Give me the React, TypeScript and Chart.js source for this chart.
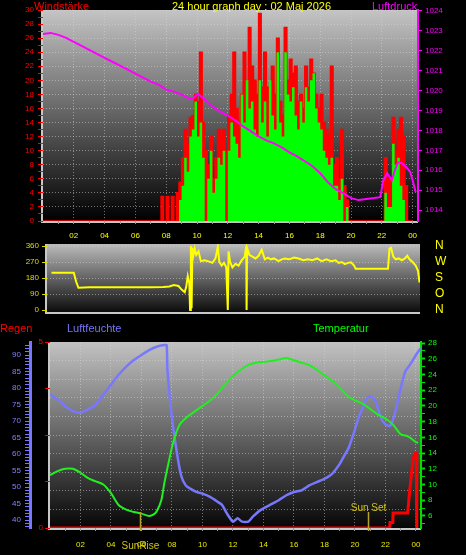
import React, { useEffect, useRef } from "react";
import { Chart, registerables } from "chart.js";

Chart.register(...registerables);

const FONT = "'Liberation Sans', Arial, Helvetica, sans-serif";
const W = 466;
const H = 555;

// ---------- Panel 1: wind (10-minute steps from 00:00) and pressure ----------
const windGust = [
  0, 0, 0, 0, 0, 0,
  0, 0, 0, 0, 0, 0,
  0, 0, 0, 0, 0, 0,
  0, 0, 0, 0, 0, 0,
  0, 0, 0, 0, 0, 0,
  0, 0, 0, 0, 0, 0,
  0, 0, 0, 0, 0, 0,
  0, 0, 0, 0, 3.5, 0,
  3.5, 0, 3.5, 0, 4, 5.5,
  9, 13, 11, 14.7, 15, 18,
  17, 24, 14, 10, 8, 12,
  6, 9, 13, 12, 13, 10,
  15, 18, 24, 16, 13, 18,
  24, 15, 27.5, 22, 20, 18,
  29.5, 19, 24, 19, 15, 22,
  18, 26, 17, 15, 27.5, 20,
  23, 21, 22, 17, 18, 16,
  22, 19, 23, 21, 18, 16,
  18, 14, 13, 12, 22, 8,
  9, 6, 13, 5, 3, 0,
  0, 0, 0, 0, 0, 0,
  0, 0, 0, 0, 0, 0,
  0, 9, 6, 6, 14.7, 10,
  13, 14.7, 12, 5, 0, 0,
  0,
];
const windAvg = [
  0, 0, 0, 0, 0, 0,
  0, 0, 0, 0, 0, 0,
  0, 0, 0, 0, 0, 0,
  0, 0, 0, 0, 0, 0,
  0, 0, 0, 0, 0, 0,
  0, 0, 0, 0, 0, 0,
  0, 0, 0, 0, 0, 0,
  0, 0, 0, 0, 0, 0,
  0, 0, 0, 0, 0, 3,
  5, 9, 7, 12, 13, 17,
  12, 14, 9, 0, 6, 10,
  4, 6, 9, 8, 10, 0,
  10, 14, 12, 11, 9, 18,
  14, 20, 16, 17, 13, 12,
  20, 14, 17, 12, 20, 15,
  13, 24, 14, 12, 24, 18,
  17, 19, 15, 13, 17, 14,
  19, 17, 20, 21, 16, 14,
  13, 10, 9, 8, 9, 5,
  5, 3, 6, 0, 2, 0,
  0, 0, 0, 0, 0, 0,
  0, 0, 0, 0, 0, 0,
  0, 4, 2, 2, 11, 8,
  9, 5, 3, 0, 0, 0,
  0,
];
const pressureHours = [
  0, 0.5, 1, 1.5, 2, 2.5, 3, 3.5, 4, 4.5, 5, 5.5, 6, 6.5, 7, 7.5, 8, 8.5, 9, 9.5,
  9.75, 10.05, 10.5, 11, 11.5, 12, 12.5, 13, 13.5, 14, 14.5, 15, 15.5, 16, 16.5,
  17, 17.5, 18, 18.5, 19, 19.5, 20, 20.5, 21, 21.5, 21.9, 22.1, 22.35, 22.65,
  22.85, 23.05, 23.3, 23.6, 23.85, 24, 24.2,
];
const pressureValues = [
  1022.85, 1022.9, 1022.8, 1022.65, 1022.45, 1022.25, 1022.05, 1021.85, 1021.65,
  1021.45, 1021.25, 1021.05, 1020.85, 1020.65, 1020.45, 1020.3, 1020.05, 1019.95,
  1019.8, 1019.6, 1019.6, 1019.85, 1019.55, 1019.2, 1018.95, 1018.75, 1018.5,
  1018.2, 1017.95, 1017.7, 1017.5, 1017.35, 1017.15, 1016.9, 1016.7, 1016.45,
  1016.2, 1015.85, 1015.4, 1015.05, 1014.85, 1014.6, 1014.5, 1014.55, 1014.6,
  1014.65, 1015.5, 1015.85, 1015.5, 1016.0, 1016.4, 1016.35, 1016.15, 1015.9,
  1015.5, 1014.9,
];

// ---------- Panel 2: wind direction ----------
const dirHours = [
  0.55, 1, 1.5, 2, 2.15, 2.3, 3, 4, 5, 6, 7, 7.8, 8.2, 8.5, 8.8, 9, 9.2, 9.3, 9.4,
  9.5, 9.55, 9.6, 9.65, 9.7, 9.75, 9.85, 9.95, 10.1, 10.25, 10.5, 10.8, 11, 11.2,
  11.35, 11.45, 11.6, 11.75, 11.9, 12, 12.05, 12.15, 12.3, 12.5, 12.7, 12.9, 13.1,
  13.2, 13.22, 13.25, 13.4, 13.6, 13.8, 14, 14.2, 14.4, 14.6, 14.8, 15, 15.3, 15.5,
  15.7, 16, 16.3, 16.6, 16.9, 17.2, 17.5, 17.8, 18.1, 18.4, 18.7, 19, 19.2, 19.4,
  19.6, 19.8, 20, 20.2, 20.3, 21, 22, 22.4, 22.5, 22.6, 22.75, 22.9, 23.1, 23.3,
  23.5, 23.65, 23.8, 24, 24.2, 24.35, 24.45,
];
const dirValues = [
  210, 210, 210, 210, 160, 125, 128, 128, 128, 128, 128, 130, 132, 140, 135, 115,
  100, 130, 190, 150, 0, 360, 10, 350, 300, 345, 310, 330, 275, 280, 272, 265, 290,
  355, 270, 250, 265, 240, 0, 330, 270, 240, 260, 250, 280, 300, 360, 0, 350, 310,
  300, 290, 305, 340, 285, 295, 285, 290, 275, 285, 290, 285, 295, 290, 280, 285,
  280, 290, 275, 285, 275, 280, 265, 270, 258, 265, 268, 250, 232, 232, 232, 232,
  345, 350, 300, 285, 290, 280, 290, 305, 285, 270, 250, 220, 155,
];
const dirTickValues = [0, 90, 180, 270, 360];
const dirTickNames = ["N", "O", "S", "W", "N"];

// ---------- Panel 3: rain, humidity, temperature ----------
const humHours = [
  0, 0.5, 1, 1.5, 2, 2.5, 3, 3.5, 4, 4.5, 5, 5.5, 6, 6.5, 7, 7.5, 7.65, 7.7, 8, 8.3,
  8.6, 8.9, 9.2, 9.6, 10, 10.5, 11, 11.3, 11.6, 12, 12.3, 12.6, 13, 13.3, 13.8, 14.4,
  15, 15.5, 16, 16.5, 17, 17.5, 18, 18.5, 19, 19.3, 19.6, 19.9, 20.2, 20.5, 20.8,
  21.1, 21.4, 21.7, 22, 22.3, 22.6, 23, 23.3, 23.6, 24, 24.3,
];
const humValues = [
  78, 76.5, 74.5, 73, 72.5, 73.5, 75, 78, 81, 84, 86.5, 88.5, 90, 91.5, 92.5, 93,
  93, 85.5, 71, 61, 53.5, 50.5, 49.5, 48.5, 48, 47, 45.5, 44.5, 42, 39.5, 40.5, 39.5,
  39.5, 41, 43, 44.5, 46, 47.5, 48.5, 49, 50.5, 51.5, 52.5, 54, 57, 59.5, 62, 66,
  70.5, 74, 77, 77.5, 75.5, 71, 69, 68.5, 72, 80, 85, 87, 90, 92,
];
const tempHours = [
  0, 0.5, 1, 1.5, 2, 2.5, 3, 3.5, 4, 4.5, 5, 5.5, 6, 6.5, 6.8, 7, 7.3, 7.5, 7.8, 8.1,
  8.5, 9, 9.5, 10, 10.5, 11, 11.5, 12, 12.5, 13, 13.5, 14, 14.5, 15, 15.5, 16, 16.5,
  17, 17.5, 18, 18.5, 19, 19.5, 20, 20.5, 21, 21.5, 22, 22.5, 23, 23.5, 24, 24.15,
];
const tempValues = [
  11.2, 11.7, 12, 12, 11.5, 10.8, 10.4, 10, 8.9, 7.4, 6.8, 6.5, 6.3, 6, 6.2, 6.6, 8,
  10.2, 13, 15.5, 17.6, 18.6, 19.3, 20, 20.7, 21.6, 22.8, 23.8, 24.6, 25.2, 25.5,
  25.6, 25.7, 25.9, 26.1, 25.8, 25.5, 25.2, 24.6, 23.9, 23.2, 22.3, 21.3, 20.7, 20.3,
  19.6, 18.9, 18.4, 17.6, 16.4, 16.1, 15.4, 15.3,
];
const rainHours = [0, 22.27, 22.3, 22.48, 22.5, 23.45, 23.5, 23.6, 23.72, 23.8, 23.93, 24.02, 24.05, 24.06];
const rainValues = [0, 0, 0.15, 0.15, 0.4, 0.4, 0.6, 1.05, 1.5, 1.85, 2.0, 2.0, 0, 0];

const sunriseHour = 5.93;
const sunsetHour = 20.87;

const hourTicks = [1, 2, 3, 4, 5, 6, 7, 8, 9, 10, 11, 12, 13, 14, 15, 16, 17, 18, 19, 20, 21, 22, 23, 24];

const GRID = "rgba(215,215,215,0.5)";

const hourLabel = (v: number) => {
  if (v % 2 !== 0) return "";
  return v === 24 ? "00" : String(v).padStart(2, "0");
};
const range = (a: number, b: number, s = 1) => {
  const out: number[] = [];
  for (let v = a; v <= b + 1e-9; v += s) out.push(Math.round(v * 100) / 100);
  return out;
};
const setTicks = (vals: number[]) => (s: any) => {
  s.ticks = vals.map((value) => ({ value }));
};
const pts = (xs: number[], ys: number[]) => xs.map((x, i) => ({ x, y: ys[i] }));
const stepPts = (ys: number[]) => ys.map((y, i) => ({ x: i / 6, y }));

const panelBg = {
  id: "panelBg",
  beforeDraw(chart: any, _a: any, opts: any) {
    const { ctx, chartArea: a } = chart;
    if (!a) return;
    ctx.save();
    const g = ctx.createLinearGradient(0, a.top, 0, a.bottom);
    g.addColorStop(0, opts.top);
    g.addColorStop(1, opts.bottom);
    ctx.fillStyle = g;
    ctx.fillRect(a.left, a.top, a.right - a.left, a.bottom - a.top);
    ctx.fillStyle = opts.frame;
    ctx.fillRect(a.left - 2, a.top, 2, a.bottom - a.top + 2);
    ctx.fillRect(a.left - 2, a.bottom, a.right - a.left + 2, 2);
    ctx.restore();
  },
};

const sunPlugin = {
  id: "sunMarks",
  afterDatasetsDraw(chart: any) {
    const { ctx, chartArea: a, scales } = chart;
    const xs = scales.x;
    const xr = Math.round(xs.getPixelForValue(sunriseHour)) + 0.5;
    const xt = Math.round(xs.getPixelForValue(sunsetHour)) + 0.5;
    ctx.save();
    ctx.strokeStyle = "#b4a42c";
    ctx.lineWidth = 1.5;
    [xr, xt].forEach((px) => {
      ctx.beginPath();
      ctx.moveTo(px, a.bottom + 3);
      ctx.lineTo(px, a.bottom - 16);
      ctx.stroke();
    });
    ctx.fillStyle = "#d2c21a";
    ctx.font = `10px ${FONT}`;
    ctx.textAlign = "center";
    ctx.textBaseline = "alphabetic";
    ctx.fillText("Sun Set", xt, a.bottom - 17);
    ctx.fillText("SunRise", xr, a.bottom + 21);
    ctx.restore();
  },
};

const baseOpts = (padTop: number, padBottom: number) => ({
  responsive: false,
  animation: false as const,
  events: [] as any[],
  layout: { padding: { top: padTop, bottom: padBottom, left: 0, right: 0 } },
});

export default function App() {
  const c1 = useRef<HTMLCanvasElement>(null);
  const c2 = useRef<HTMLCanvasElement>(null);
  const c3 = useRef<HTMLCanvasElement>(null);

  useEffect(() => {
    const charts: Chart[] = [];

    // ---- Panel 1 ----
    charts.push(
      new Chart(c1.current as HTMLCanvasElement, {
        type: "line",
        data: {
          datasets: [
            {
              label: "Luftdruck",
              data: pts(pressureHours, pressureValues),
              yAxisID: "yP",
              borderColor: "#ff00ff",
              borderWidth: 2,
              pointRadius: 0,
              fill: false,
              tension: 0,
              order: 0,
            },
            {
              label: "Wind",
              data: stepPts(windAvg),
              yAxisID: "yW",
              borderColor: "#00ff00",
              backgroundColor: "#00ff00",
              borderWidth: 0,
              pointRadius: 0,
              stepped: true,
              fill: "origin",
              order: 1,
            },
            {
              label: "Böen",
              data: stepPts(windGust),
              yAxisID: "yW",
              borderColor: "#ff0000",
              backgroundColor: "#ff0000",
              borderWidth: 1.5,
              pointRadius: 0,
              stepped: true,
              fill: "origin",
              order: 2,
            },
          ],
        },
        options: {
          ...baseOpts(10, H - 242),
          plugins: {
            legend: { display: false },
            tooltip: { enabled: false },
            panelBg: { top: "#c4c4c4", bottom: "#000000", frame: "#c8c8c8" },
          } as any,
          scales: {
            x: {
              type: "linear",
              min: 0,
              max: 24.35,
              afterBuildTicks: setTicks(hourTicks),
              afterFit: (s: any) => { s.height = 21; },
              ticks: {
                autoSkip: false,
                maxRotation: 0,
                color: "#ffff00",
                padding: 7,
                font: { size: 8, family: FONT },
                callback: (v: any) => hourLabel(Number(v)),
              },
              grid: {
                color: (c: any) => (c.tick && c.tick.value % 2 === 0 ? GRID : "transparent"),
                tickLength: 3,
                tickColor: "#9a9a9a",
              },
              border: { display: false, dash: [1, 2] },
            },
            yW: {
              position: "left",
              min: 0,
              max: 30,
              afterBuildTicks: setTicks(range(0, 30)),
              afterFit: (s: any) => { s.width = 43; },
              ticks: {
                autoSkip: false,
                color: "#ff0000",
                padding: 4,
                font: { size: 8, family: FONT },
                callback: (v: any) => (Number(v) % 2 === 0 ? String(v) : ""),
              },
              grid: {
                color: (c: any) => (c.tick && c.tick.value % 2 === 0 && c.tick.value > 0 ? GRID : "transparent"),
                tickColor: "#ff0000",
                tickLength: 5,
              },
              border: { display: false, dash: [1, 2] },
            },
            yP: {
              position: "right",
              min: 1013.45,
              max: 1024.05,
              afterBuildTicks: setTicks(range(1014, 1024)),
              afterFit: (s: any) => { s.width = 48; },
              ticks: {
                autoSkip: false,
                color: "#ff00ff",
                padding: 3,
                font: { size: 8, family: FONT },
                callback: (v: any) => String(Math.round(Number(v))),
              },
              grid: { drawOnChartArea: false, tickColor: "#ff00ff", tickLength: 4 },
              border: { display: true, color: "#ff00ff", width: 2, dash: [1, 2] },
            },
          } as any,
        },
        plugins: [panelBg],
      } as any)
    );

    // ---- Panel 2 ----
    charts.push(
      new Chart(c2.current as HTMLCanvasElement, {
        type: "line",
        data: {
          datasets: [
            {
              label: "Windrichtung",
              data: pts(dirHours, dirValues),
              yAxisID: "y",
              borderColor: "#ffff00",
              borderWidth: 2,
              pointRadius: 0,
              tension: 0,
              fill: false,
            },
          ],
        },
        options: {
          ...baseOpts(244, H - 312),
          plugins: {
            legend: { display: false },
            tooltip: { enabled: false },
            panelBg: { top: "#bcbcbc", bottom: "#0c0c0c", frame: "#c8c8c8" },
          } as any,
          scales: {
            x: { type: "linear", min: 0.26, max: 24.48, display: false },
            y: {
              position: "left",
              min: -11.25,
              max: 371.25,
              afterBuildTicks: setTicks(dirTickValues),
              afterFit: (s: any) => { s.width = 47; },
              ticks: {
                autoSkip: false,
                color: "#dcdc00",
                padding: 3,
                font: { size: 8, family: FONT },
              },
              grid: {
                color: (c: any) => (c.tick && c.tick.value > 0 ? "rgba(210,210,210,0.55)" : "transparent"),
                tickColor: "#dcdc00",
                tickLength: 5,
              },
              border: { display: false, dash: [1, 2] },
            },
            y2: {
              position: "right",
              min: -11.25,
              max: 371.25,
              afterBuildTicks: setTicks(dirTickValues),
              afterFit: (s: any) => { s.width = 46; },
              ticks: {
                autoSkip: false,
                color: "#ffff00",
                padding: 15,
                font: { size: 12, family: FONT },
                callback: (v: any) => dirTickNames[dirTickValues.indexOf(Number(v))] ?? "",
              },
              grid: { drawOnChartArea: false, drawTicks: false },
              border: { display: false },
            },
          } as any,
        },
        plugins: [panelBg],
      } as any)
    );

    // ---- Panel 3 ----
    const rainTickVals = [0, 0.5, 1, 1.25, 1.5, 2, 2.5, 3, 3.5, 3.75, 4, 4.5, 5];
    const rainMarks = [0, 1.25, 2.5, 3.75, 5];
    charts.push(
      new Chart(c3.current as HTMLCanvasElement, {
        type: "line",
        data: {
          datasets: [
            {
              label: "Temperatur",
              data: pts(tempHours, tempValues),
              yAxisID: "yT",
              borderColor: "#22ee22",
              borderWidth: 2,
              pointRadius: 0,
              tension: 0.3,
              fill: false,
              order: 0,
            },
            {
              label: "Luftfeuchte",
              data: pts(humHours, humValues),
              yAxisID: "yH",
              borderColor: "#7878ff",
              borderWidth: 2.5,
              pointRadius: 0,
              tension: 0.2,
              fill: false,
              order: 1,
            },
            {
              label: "Regen",
              data: pts(rainHours, rainValues),
              yAxisID: "yR",
              borderColor: "#ff0000",
              borderWidth: 3,
              pointRadius: 0,
              tension: 0,
              fill: false,
              order: 2,
            },
          ],
        },
        options: {
          ...baseOpts(342, 0),
          plugins: {
            legend: { display: false },
            tooltip: { enabled: false },
            panelBg: { top: "#c2c2c2", bottom: "#060606", frame: "#c8c8c8" },
          } as any,
          scales: {
            x: {
              type: "linear",
              min: 0,
              max: 24.33,
              afterBuildTicks: setTicks(hourTicks),
              afterFit: (s: any) => { s.height = 27; },
              ticks: {
                autoSkip: false,
                maxRotation: 0,
                color: "#e8e800",
                padding: 9,
                font: { size: 8, family: FONT },
                callback: (v: any) => hourLabel(Number(v)),
              },
              grid: {
                color: (c: any) => (c.tick && c.tick.value % 2 === 0 ? GRID : "transparent"),
                tickLength: 3,
                tickColor: "#9a9a9a",
              },
              border: { display: false, dash: [1, 2] },
            },
            yH: {
              position: "left",
              weight: 1,
              min: 37.58,
              max: 93.94,
              afterBuildTicks: setTicks(range(38, 93)),
              afterFit: (s: any) => { s.width = 30; },
              ticks: {
                autoSkip: false,
                color: "#8080ff",
                padding: 4,
                font: { size: 8, family: FONT },
                callback: (v: any) => {
                  const n = Number(v);
                  return n % 5 === 0 && n >= 40 && n <= 90 ? String(n) : "";
                },
              },
              grid: { drawOnChartArea: false, tickColor: "#7777ff", tickLength: 5 },
              border: { display: true, color: "#7777ff", width: 3 },
            },
            yR: {
              position: "left",
              weight: 0,
              min: 0,
              max: 5,
              afterBuildTicks: setTicks(rainTickVals),
              afterFit: (s: any) => { s.width = 20; },
              ticks: {
                autoSkip: false,
                color: "#ff0000",
                padding: 2,
                font: { size: 8, family: FONT },
                callback: (v: any) => (Number(v) === 0 || Number(v) === 5 ? String(v) : ""),
              },
              grid: {
                color: (c: any) =>
                  c.tick && c.tick.value > 0 && c.tick.value < 5 && (c.tick.value * 2) % 1 === 0 ? GRID : "transparent",
                tickColor: (c: any) => (c.tick && rainMarks.includes(c.tick.value) ? "#ff0000" : "transparent"),
                tickLength: 5,
              },
              border: { display: false, dash: [1, 2] },
            },
            yT: {
              position: "right",
              min: 4.47,
              max: 28.13,
              afterBuildTicks: setTicks(range(5, 28)),
              afterFit: (s: any) => { s.width = 45; },
              ticks: {
                autoSkip: false,
                color: "#00ff00",
                padding: 3,
                font: { size: 8, family: FONT },
                callback: (v: any) => {
                  const n = Number(v);
                  return n % 2 === 0 && n >= 6 ? String(n) : "";
                },
              },
              grid: {
                drawOnChartArea: false,
                tickColor: "#00dd00",
                tickLength: 4,
                tickWidth: (c: any) => (c.tick && c.tick.value % 2 === 0 ? 2 : 1),
              },
              border: { display: true, color: "#00dd00", width: 2, dash: [1, 2] },
            },
          } as any,
        },
        plugins: [panelBg, sunPlugin],
      } as any)
    );

    return () => {
      charts.forEach((c) => c.destroy());
    };
  }, []);

  const canvasStyle: React.CSSProperties = { position: "absolute", left: 0, top: 0 };
  const text = (left: number, top: number, color: string, s: string) => (
    <div
      style={{
        position: "absolute",
        left,
        top,
        color,
        fontSize: 11,
        lineHeight: "12px",
        whiteSpace: "nowrap",
        fontFamily: FONT,
      }}
    >
      {s}
    </div>
  );

  return (
    <div
      style={{
        position: "absolute",
        left: 0,
        top: 0,
        width: W,
        height: H,
        background: "#000",
        overflow: "hidden",
      }}
    >
      <canvas ref={c1} width={W} height={H} style={canvasStyle} />
      <canvas ref={c2} width={W} height={H} style={canvasStyle} />
      <canvas ref={c3} width={W} height={H} style={canvasStyle} />
      {text(34, 0, "#ff0000", "Windstärke")}
      {text(172, 0, "#ffff00", "24 hour graph day : 02 Maj 2026")}
      {text(372, 0, "#ff00ff", "Luftdruck")}
      {text(0, 322, "#ff0000", "Regen")}
      {text(67, 322, "#7777ff", "Luftfeuchte")}
      {text(313, 322, "#00ff00", "Temperatur")}
    </div>
  );
}
